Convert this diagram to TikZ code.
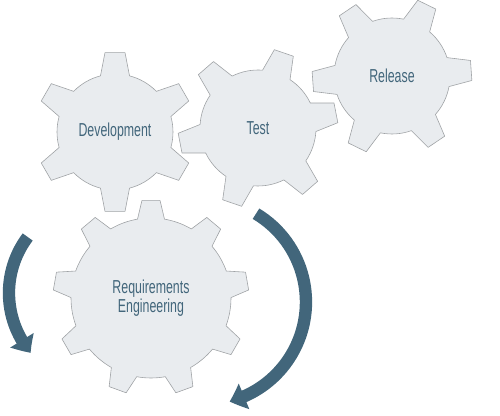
\documentclass[tikz,border=0pt]{standalone}
\usepackage{fontspec}
\newfontfamily\cogfont{Liberation Sans}[FakeStretch=0.66]
\usetikzlibrary{arrows.meta,bending}
\definecolor{cogfill}{HTML}{E9ECEF}
\definecolor{cogedge}{HTML}{9FA2A5}
\definecolor{slate}{HTML}{42667B}
\tikzset{
  cogbody/.style={fill=cogfill,draw=cogedge,line width=0.5pt,line join=round},
  lbl/.style={font=\cogfont\fontsize{16}{16.5}\selectfont,text=slate,align=center},
  cyclearr/.style={draw=slate,line width=0.37cm,-{Triangle[width=0.8cm,length=0.46cm,bend]}},
  pics/cog/.style args={#1/#2/#3/#4/#5/#6}{code={
    \pgfmathsetmacro\cogstep{360/#1}
    \path[cogbody] ({#2-#5}:#3)
      \foreach \k in {1,...,#1}{
        -- ({#2+(\k-1)*\cogstep-#6}:#4) -- ({#2+(\k-1)*\cogstep+#6}:#4)
        -- ({#2+(\k-1)*\cogstep+#5}:#3)
        arc[start angle={#2+(\k-1)*\cogstep+#5}, end angle={#2+\k*\cogstep-#5}, radius=#3]
      } -- cycle;
  }}
}

\begin{document}
\begin{tikzpicture}[x=0.03cm,y=0.03cm]
  \useasboundingbox (0,0) rectangle (500,415);
  \coordinate (dev) at (115,283);
  \coordinate (test) at (258,287);
  \coordinate (rel) at (392,339);
  \coordinate (req) at (151,117);

  \pic at (dev) {cog={6/30/58/80/14.5/7.2}};
  \pic at (test) {cog={6/11/58/80/14.5/7.2}};
  \pic at (rel) {cog={6/4/58/80/14.5/7.2}};
  \pic at (req) {cog={9/10/80/98/9.7/5.3}};

  \node[lbl] (devlbl) at (dev) {Development};
  \node[lbl] (testlbl) at (test) {Test};
  \node[lbl] (rellbl) at (rel) {Release};
  \node[lbl] (reqlbl) at (req) {Requirements\\Engineering};

  \coordinate (lstart) at (27.7,178);
  \coordinate (rstart) at (256,201.3);
  \draw[cyclearr] (lstart) arc[start angle=143,end angle=220,radius=93];
  \draw[cyclearr] (rstart) arc[start angle=59,end angle=-75,radius=103];
\end{tikzpicture}
\end{document}
